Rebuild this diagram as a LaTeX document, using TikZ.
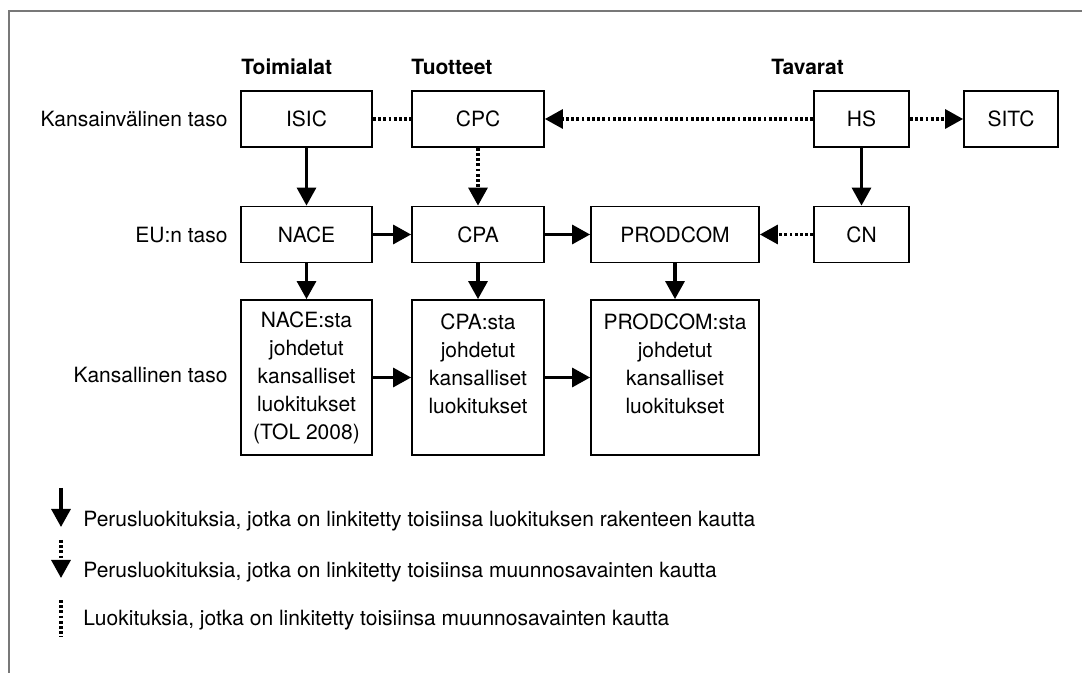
\documentclass[tikz,border=0pt]{standalone}
\usepackage{fontspec}
\setmainfont{TeX Gyre Heros}
\usepackage{tikz}
\usetikzlibrary{positioning,arrows.meta}
\definecolor{framegray}{RGB}{120,120,120}

\begin{document}
\begin{tikzpicture}[x=0.5pt,y=-0.5pt,font=\fontsize{10.5}{14}\selectfont,
  box/.style={draw,line width=0.9pt,minimum height=28pt,inner sep=2pt},
  natbox/.style={draw,line width=0.9pt,minimum height=77.5pt,inner sep=2pt,align=center},
  solidarrow/.style={line width=1.6pt,-{Triangle[length=9pt,width=9.5pt]}},
  dotarrow/.style={line width=1.6pt,dash pattern=on 1.4pt off 1.2pt,-{Triangle[length=9pt,width=9.5pt]}},
  dotline/.style={line width=1.6pt,dash pattern=on 1.4pt off 1.2pt}]
  \useasboundingbox (0,0) rectangle (1082,673);
  \draw[framegray,line width=1pt] (8.5,673) -- (8.5,11.5) -- (1082,11.5);

  \node[anchor=west,inner xsep=0pt,font=\fontsize{10.5}{14}\selectfont\bfseries](toimialat) at (241,67){Toimialat};
  \node[anchor=west,inner xsep=0pt,font=\fontsize{10.5}{14}\selectfont\bfseries](tuotteet) at (411,67){Tuotteet};
  \node[anchor=west,inner xsep=0pt,font=\fontsize{10.5}{14}\selectfont\bfseries](tavarat) at (771,67){Tavarat};

  \node[anchor=east,inner xsep=0pt](kvtaso) at (228,119){Kansainvälinen taso};
  \node[anchor=east,inner xsep=0pt](eutaso) at (228,235){EU:n taso};
  \node[anchor=east,inner xsep=0pt](kanstaso) at (228,375){Kansallinen taso};

  \node[box,minimum width=65.5pt](isic) at (306.5,119){ISIC};
  \node[box,minimum width=66pt](cpc) at (478,119){CPC};
  \node[box,minimum width=47.5pt](hs) at (861.5,119){HS};
  \node[box,minimum width=47pt](sitc) at (1011,119){SITC};

  \node[box,minimum width=65.5pt](nace) at (306.5,234.5){NACE};
  \node[box,minimum width=66pt](cpa) at (478,234.5){CPA};
  \node[box,minimum width=84pt](prodcom) at (675,234.5){PRODCOM};
  \node[box,minimum width=47.5pt](cn) at (861.5,234.5){CN};

  \node[natbox,minimum width=65.5pt](nacesta) at (306.5,377.5){NACE:sta\\johdetut\\kansalliset\\luokitukset\\(TOL 2008)};
  \node[natbox,minimum width=66pt](cpasta) at (478,377.5){CPA:sta\\johdetut\\kansalliset\\luokitukset\\\mbox{}};
  \node[natbox,minimum width=84pt](prodcomsta) at (675,377.5){PRODCOM:sta\\johdetut\\kansalliset\\luokitukset\\\mbox{}};

  \draw[dotline] (isic) -- (cpc);
  \draw[dotarrow] (hs) -- (cpc);
  \draw[dotarrow] (hs) -- (sitc);
  \draw[solidarrow] (isic) -- (nace);
  \draw[dotarrow] (cpc) -- (cpa);
  \draw[solidarrow] (hs) -- (cn);
  \draw[solidarrow] (nace) -- (cpa);
  \draw[solidarrow] (cpa) -- (prodcom);
  \draw[dotarrow] (cn) -- (prodcom);
  \draw[solidarrow] (nace) -- (nacesta);
  \draw[solidarrow] (cpa) -- (cpasta);
  \draw[solidarrow] (prodcom) -- (prodcomsta);
  \draw[solidarrow] (nacesta) -- (cpasta);
  \draw[solidarrow] (cpasta) -- (prodcomsta);

  \coordinate (leg1a) at (61,488);
  \coordinate (leg1b) at (61,527);
  \coordinate (leg2a) at (61,540);
  \coordinate (leg2b) at (61,578);
  \coordinate (leg3a) at (61,600);
  \coordinate (leg3b) at (61,637);
  \draw[solidarrow] (leg1a) -- (leg1b);
  \draw[dotarrow] (leg2a) -- (leg2b);
  \draw[dotline] (leg3a) -- (leg3b);
  \node[anchor=west,inner xsep=0pt](leg1) at (83,521){Perusluokituksia, jotka on linkitetty toisiinsa luokituksen rakenteen kautta};
  \node[anchor=west,inner xsep=0pt](leg2) at (83,572){Perusluokituksia, jotka on linkitetty toisiinsa muunnosavainten kautta};
  \node[anchor=west,inner xsep=0pt](leg3) at (83,620){Luokituksia, jotka on linkitetty toisiinsa muunnosavainten kautta};
\end{tikzpicture}
\end{document}
